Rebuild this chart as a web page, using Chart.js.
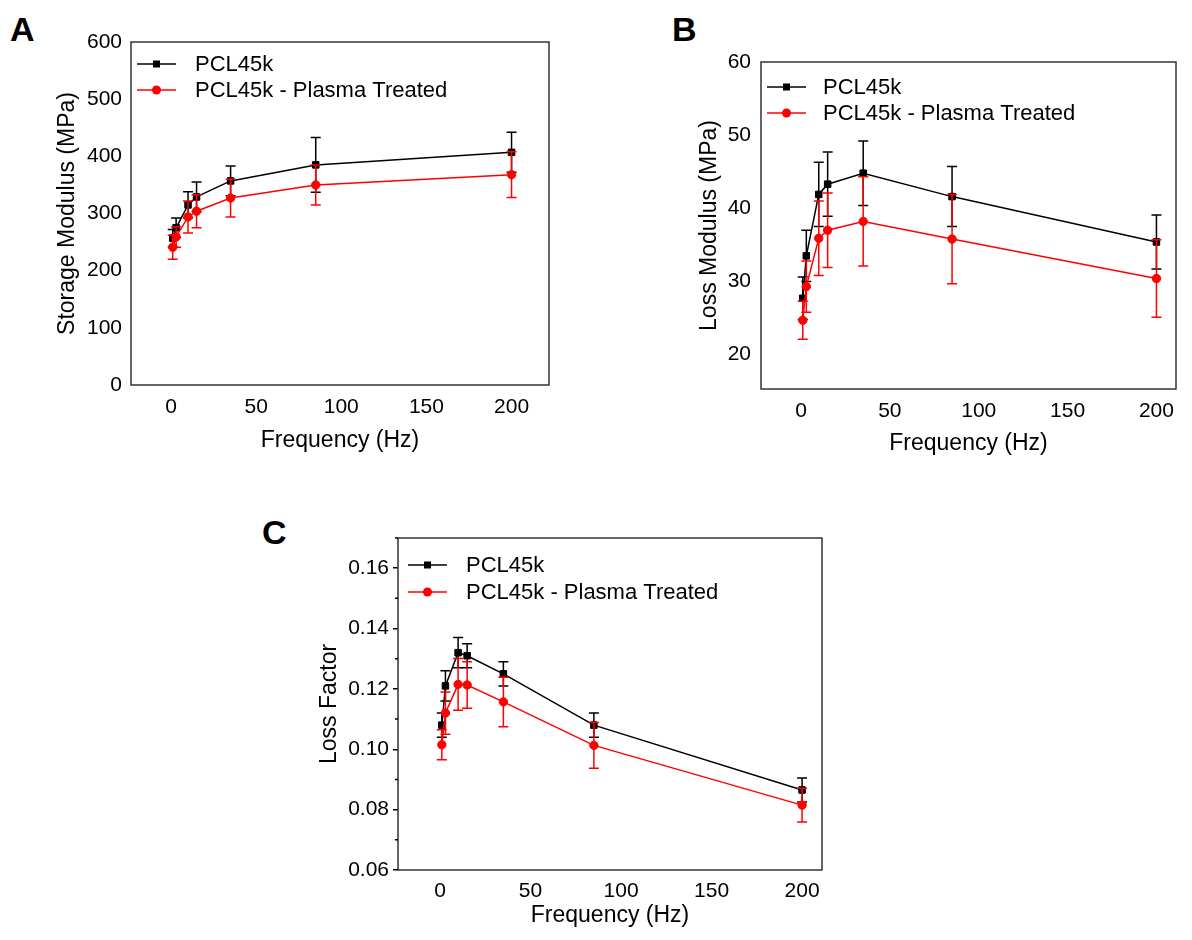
<!DOCTYPE html>
<html>
<head>
<meta charset="utf-8">
<script src="https://cdn.jsdelivr.net/npm/chart.js@4.4.1/dist/chart.umd.min.js"></script>
<style>
body { margin: 0; background: #fff; width: 1192px; height: 940px; position: relative; overflow: hidden; }
canvas { position: absolute; }
.tag { position: absolute; font: bold 34px "Liberation Sans", Arial, sans-serif; color: #000; }
</style>
</head>
<body>
<div class="tag" style="left:10px;top:10px">A</div>
<div class="tag" style="left:672px;top:10px">B</div>
<div class="tag" style="left:262px;top:513px">C</div>
<canvas id="chartA" width="570" height="480" style="left:0;top:0"></canvas>
<canvas id="chartB" width="592" height="480" style="left:600px;top:0"></canvas>
<canvas id="chartC" width="600" height="460" style="left:250px;top:480px"></canvas>
<script>
// frequencies (Hz)
const freq = [1, 3, 10, 15, 35, 85, 200];
const seriesNames = ['PCL45k', 'PCL45k - Plasma Treated'];

// A - storage modulus (MPa)
const storagePCL = [257, 275, 315, 329, 357, 385, 407];
const storagePCLErr = [15, 17, 23, 26, 26, 48, 35];
const storagePlasma = [241, 259, 294, 304, 327, 350, 368];
const storagePlasmaErr = [21, 18, 28, 29, 33, 35, 40];

// B - loss modulus (MPa)
const lossPCL = [27.7, 33.5, 41.9, 43.3, 44.8, 41.6, 35.4];
const lossPCLErr = [2.9, 3.5, 4.4, 4.4, 4.4, 4.1, 3.7];
const lossPlasma = [24.7, 29.3, 35.9, 37.0, 38.2, 35.8, 30.4];
const lossPlasmaErr = [2.6, 3.5, 5.1, 5.1, 6.1, 6.1, 5.3];

// C - loss factor
const factorPCL = [0.108, 0.121, 0.132, 0.131, 0.125, 0.108, 0.0865];
const factorPCLErr = [0.004, 0.005, 0.005, 0.004, 0.004, 0.004, 0.004];
const factorPlasma = [0.1015, 0.112, 0.1215, 0.1213, 0.1157, 0.1013, 0.0815];
const factorPlasmaErr = [0.005, 0.007, 0.0086, 0.0077, 0.0082, 0.0076, 0.0056];

// tick values
const freqTicks = [0, 50, 100, 150, 200];
const storageTicks = [0, 100, 200, 300, 400, 500, 600];
const lossTicks = [20, 30, 40, 50, 60];
const factorTicks = [0.06, 0.08, 0.10, 0.12, 0.14, 0.16];
const factorMinor = [0.07, 0.09, 0.11, 0.13, 0.15, 0.17];

Chart.defaults.font.family = '"Liberation Sans", Arial, sans-serif';
Chart.defaults.color = '#000';

// error bars, drawn under each dataset's line and markers
const errorBars = {
    id: 'errorBars',
    beforeDatasetDraw(chart, args) {
        const ds = chart.data.datasets[args.index];
        if (!ds.errors) return;
        const ctx = chart.ctx;
        const ys = chart.scales.y;
        ctx.save();
        ctx.strokeStyle = ds.borderColor;
        ctx.lineWidth = 1.5;
        args.meta.data.forEach((pt, i) => {
            const v = ds.data[i].y, e = ds.errors[i];
            const top = ys.getPixelForValue(v + e);
            const bot = ys.getPixelForValue(v - e);
            ctx.beginPath();
            ctx.moveTo(pt.x, top); ctx.lineTo(pt.x, bot);
            ctx.moveTo(pt.x - 5, top); ctx.lineTo(pt.x + 5, top);
            ctx.moveTo(pt.x - 5, bot); ctx.lineTo(pt.x + 5, bot);
            ctx.stroke();
        });
        ctx.restore();
    }
};

// box around plot area + minor ticks
const frame = {
    id: 'frame',
    afterDraw(chart, args, opts) {
        const {ctx, chartArea: a} = chart;
        ctx.save();
        ctx.strokeStyle = '#333';
        ctx.lineWidth = 1.5;
        ctx.strokeRect(a.left, a.top, a.right - a.left, a.bottom - a.top);
        if (opts.minor) {
            ctx.strokeStyle = '#000';
            ctx.beginPath();
            opts.minor.forEach(v => {
                const y = chart.scales.y.getPixelForValue(v);
                ctx.moveTo(a.left, y); ctx.lineTo(a.left - 3, y);
            });
            ctx.stroke();
        }
        ctx.restore();
    }
};

// legend inside the plot, line with marker
const boxLegend = {
    id: 'boxLegend',
    afterDraw(chart, args, opts) {
        const ctx = chart.ctx;
        ctx.save();
        ctx.font = '22px "Liberation Sans", Arial, sans-serif';
        ctx.textBaseline = 'middle';
        chart.data.datasets.forEach((ds, i) => {
            const y = opts.y + i * opts.gap;
            const mx = (opts.x1 + opts.x2) / 2;
            ctx.strokeStyle = ds.borderColor;
            ctx.fillStyle = ds.borderColor;
            ctx.lineWidth = 1.5;
            ctx.beginPath();
            ctx.moveTo(opts.x1, y); ctx.lineTo(opts.x2, y);
            ctx.stroke();
            if (ds.pointStyle === 'rect') {
                ctx.fillRect(mx - 3.5, y - 3.5, 7, 7);
            } else {
                ctx.beginPath();
                ctx.arc(mx, y, 4.5, 0, Math.PI * 2);
                ctx.fill();
            }
            ctx.fillStyle = '#000';
            ctx.fillText(ds.label, opts.tx, y + 1);
        });
        ctx.restore();
    }
};

function makeChart(id, c) {
    const ticked = !!c.minor;
    return new Chart(document.getElementById(id), {
        type: 'line',
        data: {
            datasets: [{
                label: seriesNames[0],
                data: freq.map((f, i) => ({x: f, y: c.black[i]})),
                errors: c.blackErr,
                borderColor: '#000', backgroundColor: '#000',
                borderWidth: 1.5, pointStyle: 'rect', pointRadius: 4.6, pointBorderWidth: 1,
                order: 2
            }, {
                label: seriesNames[1],
                data: freq.map((f, i) => ({x: f, y: c.red[i]})),
                errors: c.redErr,
                borderColor: '#ff0000', backgroundColor: '#ff0000',
                borderWidth: 1.5, pointStyle: 'circle', pointRadius: 4.2, pointBorderWidth: 1,
                order: 1
            }]
        },
        options: {
            responsive: false,
            animation: false,
            events: [],
            layout: {padding: c.pad},
            plugins: {
                legend: {display: false},
                tooltip: {enabled: false},
                boxLegend: c.legend,
                frame: {minor: c.minor}
            },
            scales: {
                x: {
                    type: 'linear', min: c.xMin, max: c.xMax,
                    afterFit: s => { s.height = c.xH; },
                    afterBuildTicks: s => { s.ticks = freqTicks.map(v => ({value: v})); },
                    grid: {display: false, drawTicks: false},
                    border: {display: false},
                    ticks: {font: {size: 21}, padding: c.xTickPad, maxRotation: 0},
                    title: {display: true, text: 'Frequency (Hz)', font: {size: 23}, padding: {top: 0, bottom: c.xTitlePad}}
                },
                y: {
                    min: c.yMin, max: c.yMax,
                    afterFit: s => { s.width = c.yW; },
                    afterBuildTicks: s => { s.ticks = c.yTicks.map(v => ({value: v})); },
                    grid: ticked ? {drawOnChartArea: false, drawTicks: true, tickLength: 5, color: '#000', lineWidth: 1.5}
                                 : {display: false, drawTicks: false},
                    border: {display: false},
                    ticks: {font: {size: 21}, padding: c.yTickPad, callback: c.fmt || (v => v)},
                    title: {display: true, text: c.yTitle, font: {size: 23}, padding: {top: c.yTitlePad, bottom: 0}}
                }
            }
        },
        plugins: [errorBars, frame, boxLegend]
    });
}

makeChart('chartA', {
    black: storagePCL, blackErr: storagePCLErr, red: storagePlasma, redErr: storagePlasmaErr,
    xMin: -23.5, xMax: 222, yMin: 0, yMax: 600, yTicks: storageTicks,
    yTitle: 'Storage Modulus (MPa)',
    pad: {left: 0, top: 42, right: 21, bottom: 0}, yW: 131, xH: 95,
    yTickPad: 9, xTickPad: 10, yTitlePad: 54, xTitlePad: 26,
    legend: {x1: 137, x2: 176, y: 64, gap: 26, tx: 195}
});

makeChart('chartB', {
    black: lossPCL, blackErr: lossPCLErr, red: lossPlasma, redErr: lossPlasmaErr,
    xMin: -22.5, xMax: 211, yMin: 15.3, yMax: 60, yTicks: lossTicks,
    yTitle: 'Loss Modulus (MPa)',
    pad: {left: 0, top: 62, right: 16, bottom: 0}, yW: 161, xH: 91,
    yTickPad: 10, xTickPad: 10, yTitlePad: 96, xTitlePad: 23,
    legend: {x1: 167, x2: 206, y: 87, gap: 26, tx: 223}
});

makeChart('chartC', {
    black: factorPCL, blackErr: factorPCLErr, red: factorPlasma, redErr: factorPlasmaErr,
    xMin: -23.2, xMax: 211, yMin: 0.06, yMax: 0.17, yTicks: factorTicks, minor: factorMinor,
    yTitle: 'Loss Factor', fmt: v => v.toFixed(2),
    pad: {left: 0, top: 58, right: 28, bottom: 0}, yW: 148, xH: 70,
    yTickPad: 4, xTickPad: 9, yTitlePad: 66, xTitlePad: 11,
    legend: {x1: 158, x2: 197, y: 85, gap: 27, tx: 216}
});
</script>
</body>
</html>
